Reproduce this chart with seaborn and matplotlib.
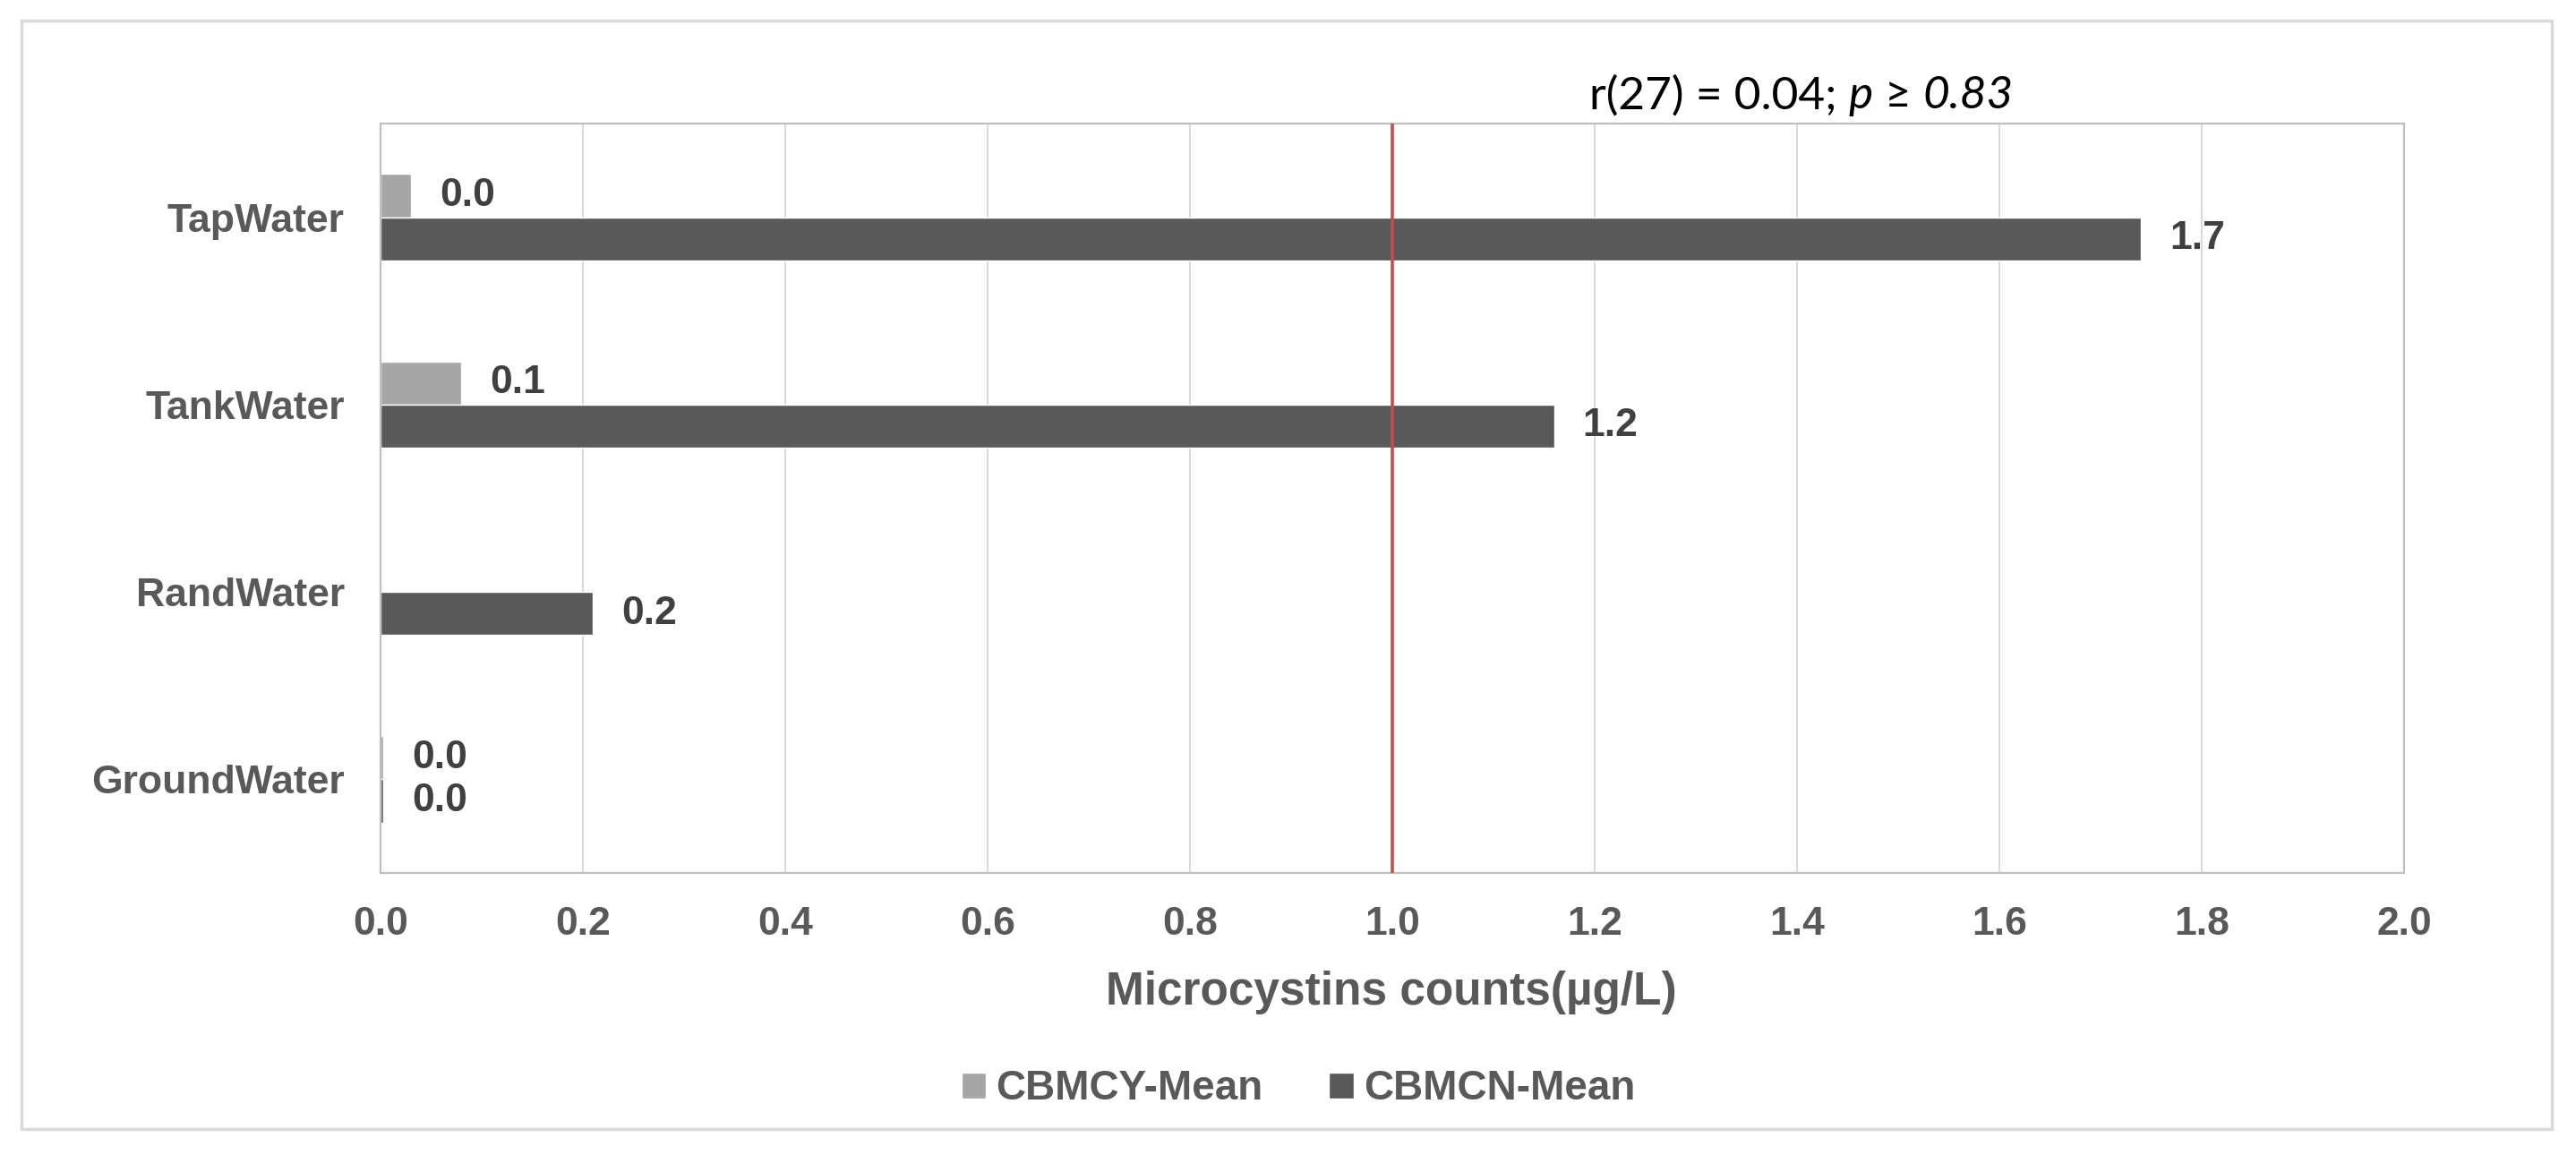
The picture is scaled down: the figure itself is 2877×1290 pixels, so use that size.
import matplotlib
matplotlib.use('Agg')
import matplotlib.pyplot as plt
import seaborn as sns
import pandas as pd
from matplotlib.patches import Rectangle

# data
sites = ['TapWater', 'TankWater', 'RandWater', 'GroundWater']
series = ['CBMCY-Mean', 'CBMCN-Mean']
cbmcy_mean = [0.03, 0.08, 0.0, 0.003]
cbmcn_mean = [1.74, 1.16, 0.21, 0.003]
x_ticks = [0.0, 0.2, 0.4, 0.6, 0.8, 1.0, 1.2, 1.4, 1.6, 1.8, 2.0]
threshold = 1.0
# (text, style) pieces of the correlation note
stat_parts = [('r(27) = 0.04; ', 'normal'), ('p', 'italic'),
              (' ≥ ', 'normal'), ('0.83', 'italic')]

LIGHT = '#a6a6a6'
DARK = '#595959'
TEXT = '#595959'
W, H = 2877, 1290

sns.set_theme(style='white')
plt.rcParams['font.family'] = ['Liberation Sans', 'DejaVu Sans']

df = pd.DataFrame({
    'site': sites * 2,
    'series': [series[0]] * len(sites) + [series[1]] * len(sites),
    'value': cbmcy_mean + cbmcn_mean,
})

fig = plt.figure(figsize=(W / 100, H / 100), dpi=100)
ax = fig.add_axes([425 / W, 1 - 975 / H, (2685 - 425) / W, (975 - 138) / H])

sns.barplot(data=df, x='value', y='site', hue='series', order=sites,
            hue_order=series, palette=[LIGHT, DARK], width=0.46,
            orient='h', errorbar=None, saturation=1, ax=ax)

# value labels next to each bar (skip empty bars)
for cont in ax.containers:
    labels = ['' if b.get_width() == 0 else f'{b.get_width():.1f}' for b in cont]
    ax.bar_label(cont, labels=labels, padding=23, fontsize=32,
                 fontweight='bold', color='#404040')

# threshold line
ax.axvline(threshold, color='#c0504d', linewidth=2.6, zorder=3)

ax.set_xlim(x_ticks[0], x_ticks[-1])
ax.set_xticks(x_ticks)
ax.set_xticklabels([f'{t:.1f}' for t in x_ticks])
ax.grid(axis='x', color='#d9d9d9', linewidth=1.4)
ax.set_axisbelow(True)
for sp in ax.spines.values():
    sp.set_color('#bfbfbf')
    sp.set_linewidth(1.6)

ax.tick_params(axis='both', length=0, labelsize=32, labelcolor=TEXT)
ax.tick_params(axis='x', pad=27)
ax.tick_params(axis='y', pad=29)
for lab in ax.get_xticklabels() + ax.get_yticklabels():
    lab.set_fontweight('bold')

ax.set_ylabel('')
ax.set_xlabel('')
fig.text(0.54, 0.141, 'Microcystins counts(µg/L)', ha='center', va='center',
         fontsize=37, fontweight='bold', color=TEXT)

# correlation note, built piece by piece so p and 0.83 are italic
fig.canvas.draw()
x_px = 1775
for txt, st in stat_parts:
    t = fig.text(x_px / W, 0.917, txt, ha='left', va='center', fontsize=37,
                 style=st, color='black', family=['Lato', 'DejaVu Sans'])
    x_px = t.get_window_extent(renderer=fig.canvas.get_renderer()).x1

handles, labels = ax.get_legend_handles_labels()
ax.legend(handles, labels, loc='center', bbox_to_anchor=(0.504, 0.057),
          bbox_transform=fig.transFigure, ncol=2, frameon=False,
          handlelength=0.6, handleheight=0.6, handletextpad=0.25,
          columnspacing=1.6, prop={'size': 33, 'weight': 'bold'},
          labelcolor=TEXT)

# light outer frame around the whole chart
fig.patches.append(Rectangle((24 / W, 1 - 1261 / H), (2850 - 24) / W,
                             (1261 - 23) / H, transform=fig.transFigure,
                             fill=False, edgecolor='#d9d9d9', linewidth=2.5))

fig.savefig('out.png', dpi=100)
